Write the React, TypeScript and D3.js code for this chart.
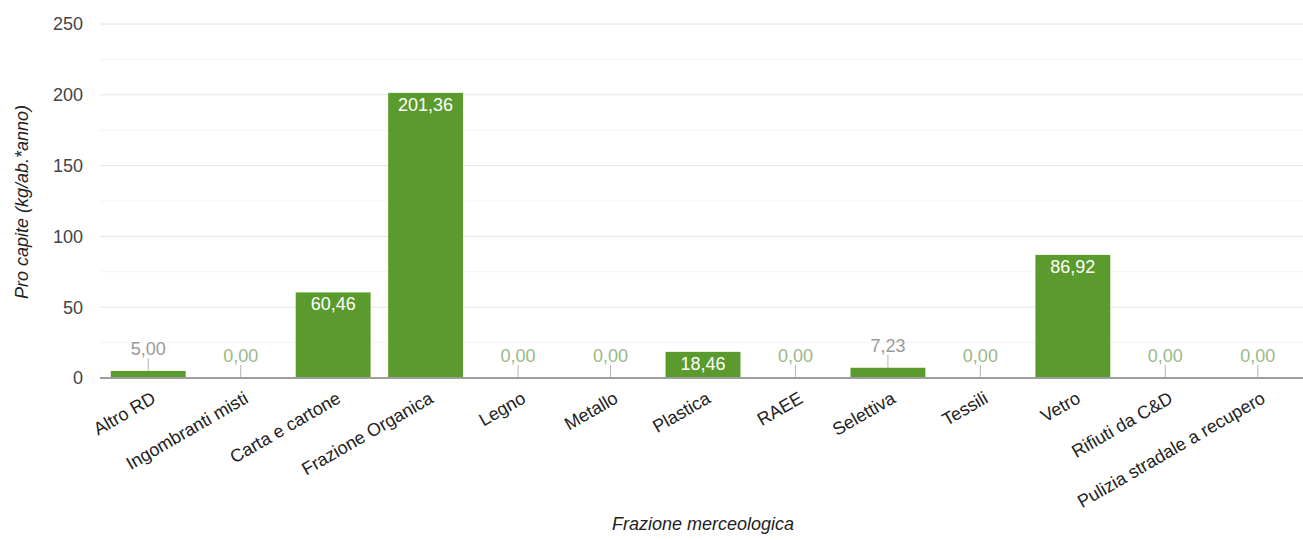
import React from "react";
import * as d3 from "d3";

const categories = [
  "Altro RD",
  "Ingombranti misti",
  "Carta e cartone",
  "Frazione Organica",
  "Legno",
  "Metallo",
  "Plastica",
  "RAEE",
  "Selettiva",
  "Tessili",
  "Vetro",
  "Rifiuti da C&D",
  "Pulizia stradale a recupero",
];
const values = [5.0, 0, 60.46, 201.36, 0, 0, 18.46, 0, 7.23, 0, 86.92, 0, 0];
const majorTicks = [0, 50, 100, 150, 200, 250];
const minorTicks = [25, 75, 125, 175, 225];

const W = 1303;
const H = 540;
const FONT = "Arial, 'Liberation Sans', sans-serif";
const BAR = "#5b9a2c";
const FS = 18;

export default function App() {
  const x = d3
    .scaleBand<string>()
    .domain(categories)
    .range([102, 1304])
    .paddingInner(0.19)
    .paddingOuter(0.095);
  const y = d3.scaleLinear().domain([0, 250]).range([378, 24]);
  const fmt = (v: number) => v.toFixed(2).replace(".", ",");

  return (
    <svg
      width={W}
      height={H}
      style={{ position: "absolute", left: 0, top: 0, background: "#fff" }}
      fontFamily={FONT}
    >
      {minorTicks.map((t) => (
        <line key={"m" + t} x1={100} x2={W} y1={y(t)} y2={y(t)} stroke="#f3f3f3" strokeWidth={1} />
      ))}
      {majorTicks.map((t) => (
        <line key={"g" + t} x1={100} x2={W} y1={y(t)} y2={y(t)} stroke="#e4e4e4" strokeWidth={1} />
      ))}
      {majorTicks.map((t) => (
        <text key={"t" + t} x={83} y={y(t)} dy="0.36em" textAnchor="end" fontSize={FS} fill="#444">
          {t}
        </text>
      ))}
      {categories.map((c, i) => {
        const v = values[i];
        const bx = x(c)!;
        const bw = x.bandwidth();
        const top = y(v);
        const h = y(0) - top;
        const cx = bx + bw / 2;
        const inside = h > 24;
        return (
          <g key={c}>
            {h > 0 && <rect x={bx} y={top} width={bw} height={h} fill={BAR} />}
            {inside ? (
              <text x={cx} y={top + 18} textAnchor="middle" fontSize={FS} fill="#ffffff">
                {fmt(v)}
              </text>
            ) : (
              <g>
                <line x1={cx} x2={cx} y1={top - 13} y2={top} stroke="#b5b5b5" strokeWidth={1} />
                <text x={cx} y={top - 16} textAnchor="middle" fontSize={FS} fill={v === 0 ? "#9ab887" : "#9a9a9a"}>
                  {fmt(v)}
                </text>
              </g>
            )}
          </g>
        );
      })}
      <line x1={100} x2={W} y1={y(0)} y2={y(0)} stroke="#9e9e9e" strokeWidth={2} />
      {categories.map((c) => {
        const cx = x(c)! + x.bandwidth() / 2;
        return (
          <text
            key={"x" + c}
            transform={`translate(${cx + 2},${390}) rotate(-30)`}
            textAnchor="end"
            dy="0.75em"
            fontSize={FS}
            fill="#222"
          >
            {c}
          </text>
        );
      })}
      <text
        transform={`translate(28,${202}) rotate(-90)`}
        textAnchor="middle"
        fontSize={FS}
        fontStyle="italic"
        fill="#222"
      >
        Pro capite (kg/ab.*anno)
      </text>
      <text x={703} y={530} textAnchor="middle" fontSize={FS} fontStyle="italic" fill="#222">
        Frazione merceologica
      </text>
    </svg>
  );
}
